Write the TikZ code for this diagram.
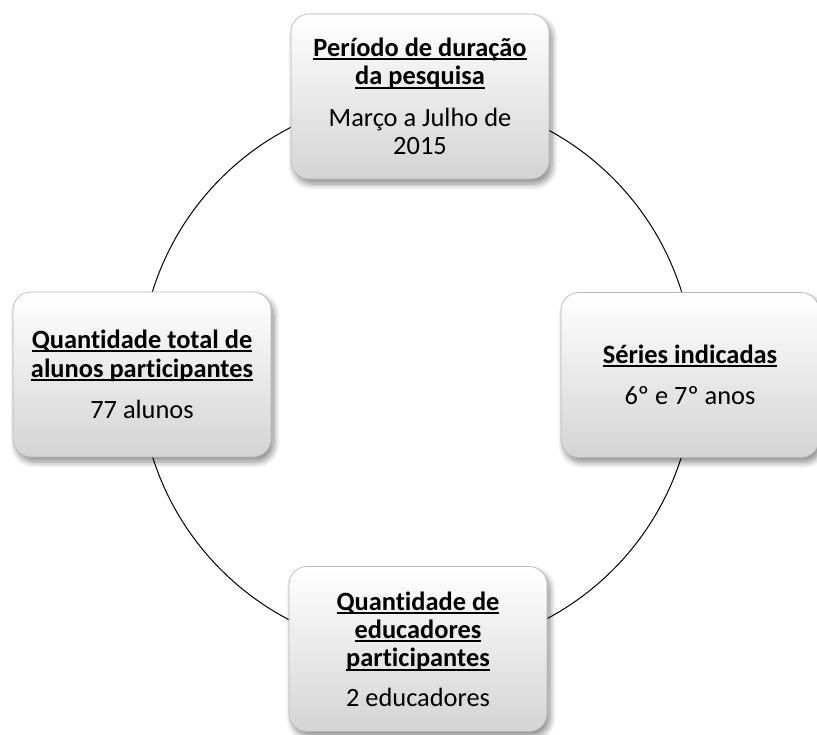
\documentclass[tikz,border=0pt]{standalone}
\usepackage{fontspec}
\setmainfont{Carlito}[Ligatures=NoCommon]
\usetikzlibrary{shadows.blur}
\newcommand\ulx[1]{\setbox0\hbox{#1}\rlap{\rule[-0.14em]{\wd0}{0.075em}}\box0}
\tikzset{
  infobox/.style={rounded corners=18bp, minimum width=258bp, minimum height=165bp,
    top color=white, bottom color=black!17, draw=black!28, line width=0.7bp,
    blur shadow={shadow xshift=3bp, shadow yshift=-5bp, shadow blur steps=8, shadow blur radius=6bp, shadow opacity=45},
    align=center, font=\fontsize{26.5}{28.5}\selectfont, inner sep=0pt},
  ring/.style={draw=black, line width=1bp}
}
\begin{document}
\begin{tikzpicture}[x=1bp,y=-1bp]
\useasboundingbox (0,0) rectangle (817,735);
\coordinate (c) at (417,374);
\draw[ring] (c) circle[radius=277bp];
\node[infobox] (top) at (420,96.5) {\textbf{\ulx{Período de duração}}\\\textbf{\ulx{da pesquisa}}\\[13bp]Março a Julho de\\2015};
\node[infobox] (right) at (690,375) {\textbf{\ulx{Séries indicadas}}\\[13bp]6º e 7º anos};
\node[infobox] (left) at (142,374.5) {\textbf{\ulx{Quantidade total de}}\\\textbf{\ulx{alunos participantes}}\\[13bp]77 alunos};
\node[infobox] (bottom) at (418,649) {\textbf{\ulx{Quantidade de}}\\\textbf{\ulx{educadores}}\\\textbf{\ulx{participantes}}\\[11bp]2 educadores};
\end{tikzpicture}
\end{document}
